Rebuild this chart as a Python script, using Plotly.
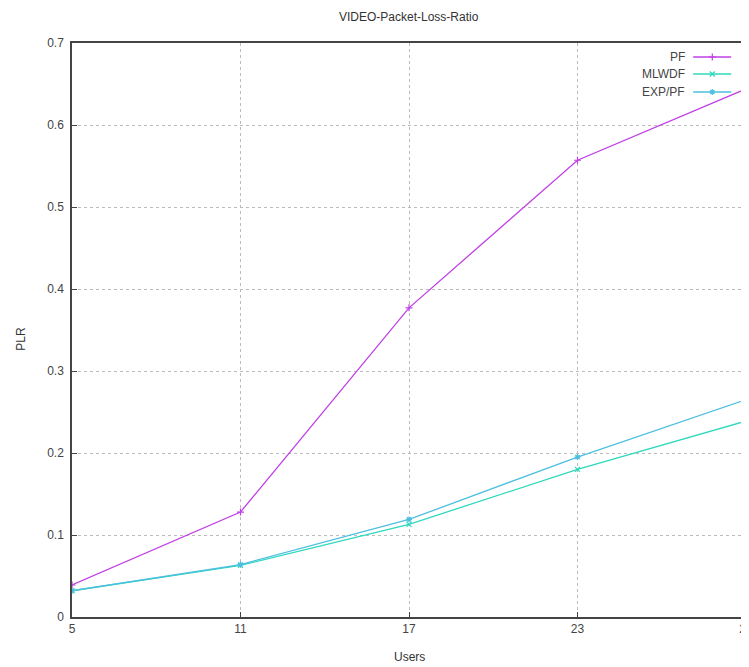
import plotly.graph_objects as go

users = [5, 11, 17, 23, 29]
pf = [0.039, 0.128, 0.377, 0.557, 0.644]
mlwdf = [0.032, 0.063, 0.113, 0.180, 0.239]
exppf = [0.032, 0.064, 0.119, 0.195, 0.265]
y_ticks = [0, 0.1, 0.2, 0.3, 0.4, 0.5, 0.6, 0.7]
y_labels = ["0", "0.1", "0.2", "0.3", "0.4", "0.5", "0.6", "0.7"]

series = [
    ("PF", pf, "#c040e4", "cross-thin-open"),
    ("MLWDF", mlwdf, "#2fd8bc", "x-thin-open"),
    ("EXP/PF", exppf, "#4cbfe0", "asterisk-open"),
]

font = "Liberation Sans, Arial, sans-serif"
fig = go.Figure()
for name, vals, col, sym in series:
    fig.add_trace(go.Scatter(
        x=users, y=vals, name=name, mode="lines+markers",
        line=dict(color=col, width=1.3),
        marker=dict(symbol=sym, size=5, color=col, line=dict(color=col, width=1.2)),
        showlegend=False,
    ))

# custom gnuplot-style legend (text right-aligned, sample on the right)
leg_y = [0.9756, 0.946, 0.9146]
for (name, vals, col, sym), ly in zip(series, leg_y):
    fig.add_annotation(xref="paper", yref="paper", x=0.9127, y=ly, text=name,
                       showarrow=False, xanchor="right", yanchor="middle",
                       font=dict(family=font, size=12, color="#444"))
    fig.add_shape(type="line", xref="paper", yref="paper", x0=0.9216, x1=0.978,
                  y0=ly, y1=ly, line=dict(color=col, width=1.3))
    fig.add_trace(go.Scatter(
        x=[0.950], y=[ly], xaxis="x2", yaxis="y2", mode="markers",
        marker=dict(symbol=sym, size=5, color=col, line=dict(color=col, width=1.2)),
        showlegend=False, hoverinfo="skip"))

# title and axis titles
fig.add_annotation(xref="paper", yref="paper", x=0.5, y=1.0453, text="VIDEO-Packet-Loss-Ratio",
                   showarrow=False, xanchor="center", yanchor="middle",
                   font=dict(family=font, size=12, color="#333"))
fig.add_annotation(xref="paper", yref="paper", x=0.5, y=-0.0697, text="Users",
                   showarrow=False, xanchor="center", yanchor="middle",
                   font=dict(family=font, size=12, color="#333"))
fig.add_annotation(xref="paper", yref="paper", x=-0.0769, y=0.485, text="PLR",
                   showarrow=False, xanchor="center", yanchor="middle", textangle=-90,
                   font=dict(family=font, size=12, color="#333"))

# the page body adds an 8px offset, so the figure is 8px smaller and margins shifted
fig.update_layout(
    width=741, height=659,
    margin=dict(l=64, r=3, t=35, b=50, autoexpand=False),
    paper_bgcolor="white", plot_bgcolor="white",
    font=dict(family=font, size=12, color="#444"),
    xaxis=dict(range=[5, 29], tickvals=users, ticktext=[str(u) for u in users],
               showgrid=True, gridcolor="#bbbbbb", griddash="dot", gridwidth=1,
               showline=True, linecolor="#444", linewidth=1.5, mirror=True,
               ticks="inside", ticklen=5, tickcolor="#444", zeroline=False,
               automargin=False, ticklabeloverflow="allow",
               tickfont=dict(size=12, color="#444")),
    yaxis=dict(range=[0, 0.7], tickvals=y_ticks, ticktext=y_labels,
               showgrid=True, gridcolor="#bbbbbb", griddash="dot", gridwidth=1,
               showline=True, linecolor="#444", linewidth=1.5, mirror=True,
               ticks="inside", ticklen=5, tickcolor="#444", zeroline=False,
               automargin=False, ticklabelstandoff=4,
               tickfont=dict(size=12, color="#444")),
    xaxis2=dict(range=[0, 1], overlaying="x", visible=False, fixedrange=True),
    yaxis2=dict(range=[0, 1], overlaying="y", visible=False, fixedrange=True),
)

fig.write_html("out.html")
